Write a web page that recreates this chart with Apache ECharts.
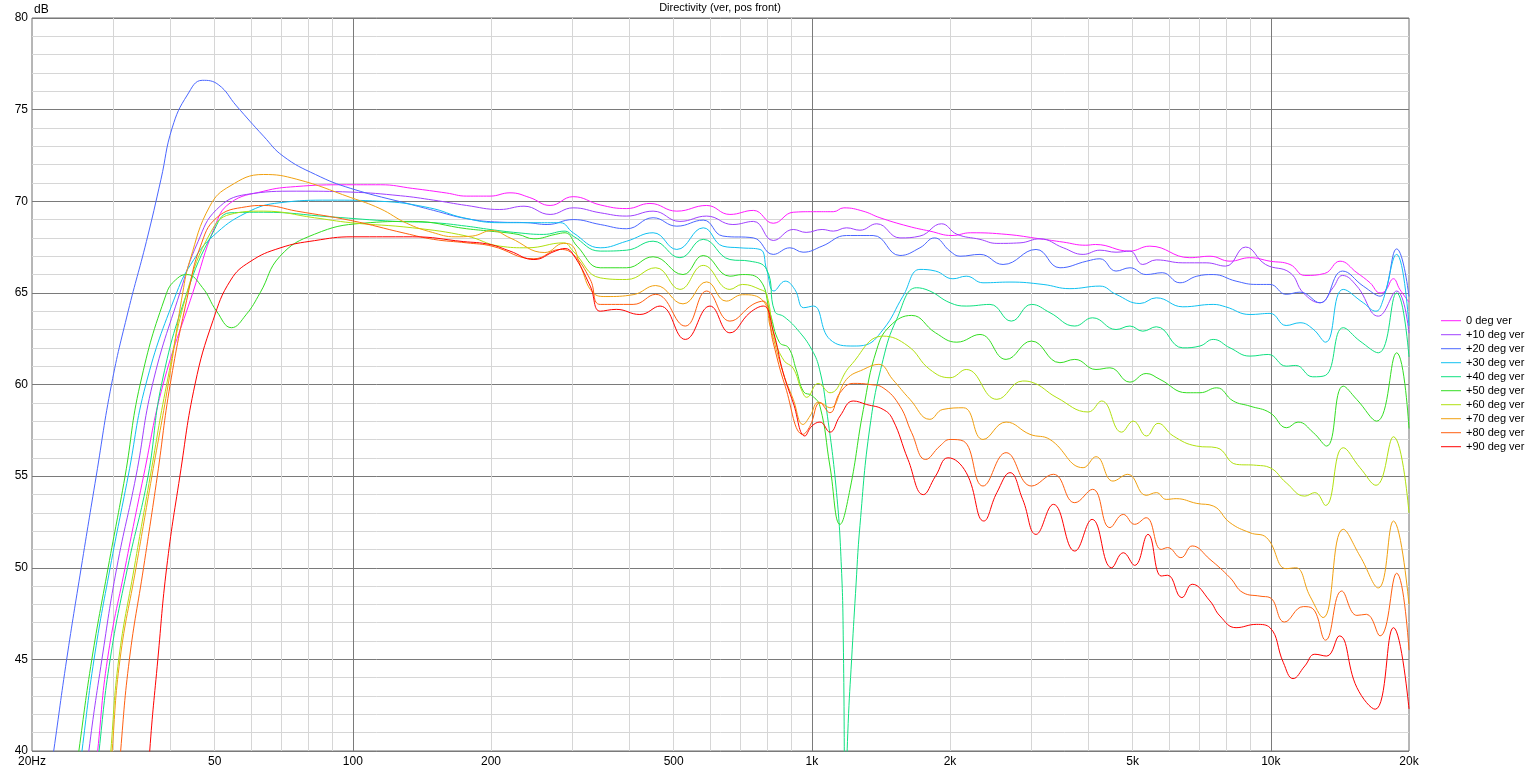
<!DOCTYPE html>
<html><head><meta charset="utf-8">
<script src="https://cdn.jsdelivr.net/npm/echarts@6/dist/echarts.min.js"></script>
<style>html,body{margin:0;padding:0;background:#fff}#c{width:1531px;height:769px}</style>
</head><body><div id="c"></div>
<script>
const seriesNames = ['0 deg ver','+10 deg ver','+20 deg ver','+30 deg ver','+40 deg ver','+50 deg ver','+60 deg ver','+70 deg ver','+80 deg ver','+90 deg ver'];
const seriesColors = ['#ff1aff','#a040ff','#4a66ff','#10c0f0','#10e080','#33dd22','#b0e010','#f0a010','#ff5f10','#ff0000'];

// [frequency Hz, dB]
const deg0 = [[26.5,35],[27.8,40],[29.2,45],[31.9,50],[35,55],[38.6,60],[44.8,65],[50,68.6],[54,69.9],[64,70.55],[75,70.8],[97,70.9],[115,70.9],[135,70.7],[160,70.45],[177,70.28],[199,70.28],[220,70.46],[243,70.2],[269,69.77],[302,70.25],[346,69.8],[395,69.6],[444,69.88],[508,69.46],[590,69.77],[663,69.28],[746,69.5],[824,68.8],[911,69.4],[1008,69.43],[1114,69.43],[1174,69.64],[1293,69.46],[1407,69.1],[1620,68.64],[1808,68.37],[2020,68.13],[2218,68.28],[2660,68.19],[3141,67.95],[3530,67.77],[3950,67.6],[4150,67.64],[4920,67.28],[5450,67.55],[6660,66.92],[7370,67.0],[8150,66.73],[9000,66.92],[9960,66.73],[11010,66.55],[11860,65.95],[13100,66.06],[14150,66.73],[15400,66.1],[16450,65.55],[17300,65.0],[17750,65.1],[18500,65.77],[19100,65.19],[20000,64.5]];
const deg10 = [[25.3,35],[26.6,40],[28.4,45],[30.6,50],[33.7,55],[36.6,60],[42,65],[46,67.8],[50.5,69.55],[58.6,70.37],[75.5,70.55],[99,70.5],[127,70.3],[150,70.06],[177,69.77],[209,69.55],[236,69.73],[269,69.28],[302,69.64],[346,69.37],[395,69.19],[451,69.46],[516,68.9],[590,69.19],[673,68.73],[746,68.9],[824,67.86],[911,68.46],[972,68.3],[1053,68.46],[1114,68.37],[1190,68.55],[1273,68.42],[1385,68.77],[1556,68.0],[1720,68.1],[1917,68.77],[2070,68.2],[2325,67.92],[2530,67.7],[2841,67.73],[3141,67.95],[3530,67.46],[3900,67.1],[4243,67.33],[4600,67.22],[4932,67.28],[5260,66.55],[5630,66.8],[6430,66.64],[7230,66.64],[7970,66.46],[8810,67.5],[9740,66.55],[11010,66.1],[11770,65.0],[12800,64.46],[13660,65.28],[14330,65.95],[15400,65.37],[17150,63.73],[18800,65.1],[20000,62.8]];
const deg20 = [[20.6,34],[22.3,40],[23.8,45],[25.6,50],[27.6,55],[29.8,60],[32.4,64],[35.5,67.8],[38.2,71.2],[40.4,74.0],[43.6,75.8],[47,76.6],[50.9,76.37],[55.8,75.2],[63.9,73.55],[70.5,72.46],[82.9,71.46],[99,70.7],[135,69.8],[150,69.5],[177,69.05],[209,68.86],[240,68.83],[265,68.73],[302,69.0],[346,68.73],[395,68.5],[451,69.1],[508,68.64],[580,68.97],[640,68.1],[746,68.0],[824,67.1],[896,67.46],[957,67.22],[1053,67.55],[1190,68.13],[1360,68.13],[1556,67.04],[1720,67.46],[1850,68.0],[2000,67.28],[2103,67.0],[2325,67.1],[2610,66.55],[3080,67.37],[3472,66.37],[3970,66.73],[4243,66.86],[4600,66.19],[4932,66.37],[5350,66.0],[5800,66.1],[6338,65.55],[6900,65.91],[7490,66.0],[8400,65.64],[9300,65.46],[9957,65.46],[10800,64.92],[11576,65.04],[12800,64.46],[14330,66.19],[15900,65.37],[17300,64.82],[18800,67.4],[20000,64.8]];
const deg30 = [[24.3,35],[25.7,40],[27.3,45],[29.6,50],[32.4,55],[35.4,60],[41.3,65],[45,66.8],[49.6,68.1],[58.6,69.37],[69.4,69.92],[89.2,70.06],[114.6,70.0],[147,69.64],[174,69.1],[209,68.83],[248,68.83],[283,68.83],[302,68.28],[346,67.46],[395,67.82],[451,68.28],[508,67.37],[580,68.55],[640,67.55],[697,67.46],[771,67.37],[797,66.28],[827,65.1],[875,65.64],[918,65.19],[960,64.19],[1008,64.28],[1095,62.46],[1236,62.1],[1295,62.13],[1430,63.0],[1580,64.82],[1720,66.28],[1860,66.19],[2030,65.77],[2170,65.91],[2360,65.55],[2702,65.59],[3190,65.46],[3650,65.23],[4243,65.37],[4600,64.92],[5186,64.42],[5630,64.73],[6430,64.24],[7490,64.37],[7970,64.24],[9006,63.82],[9957,63.88],[10800,63.22],[11576,63.37],[12340,63.04],[13160,62.31],[14380,65.19],[15900,64.46],[16940,64.0],[17480,64.46],[18800,67.1],[20000,63.2]];
const deg40 = [[26.8,35],[28.0,40],[29.6,45],[32.3,50],[35.8,55],[38.3,60],[43.5,65],[49.6,68.3],[54,69.37],[63.9,69.4],[89.2,69.15],[124,68.9],[150,68.83],[177,68.64],[199,68.46],[229,68.28],[260,68.19],[290,68.37],[302,68.1],[346,67.28],[395,67.33],[451,67.82],[516,66.92],[580,67.92],[663,66.82],[733,66.73],[797,66.28],[830,64.0],[870,63.7],[930,63.0],[1000,61.9],[1040,60.8],[1077,58.6],[1132,54.1],[1160,50],[1171,46],[1178,38],[1184,25],[1190,38],[1200,41.5],[1221,45],[1245,48.6],[1273,52.3],[1339,57.73],[1430,61.37],[1530,63.55],[1690,65.28],[1808,65.1],[2000,64.46],[2170,64.28],[2444,64.37],[2720,63.46],[3010,64.37],[3302,63.92],[3740,63.19],[4090,63.64],[4600,63.0],[4932,63.19],[5260,62.91],[5630,63.15],[6430,62.0],[7007,62.1],[7490,62.46],[8147,62.0],[9006,61.55],[9870,61.64],[10800,61.0],[11330,61.04],[12340,60.42],[13160,60.5],[14380,63.1],[15640,62.37],[17150,61.73],[18800,65.0],[20000,61.5]];
const deg50 = [[23.8,35],[25.3,40],[27.0,45],[29.3,50],[31.9,55],[34.4,60],[39.3,65],[41.5,65.8],[43.5,66.0],[47,65.3],[50.5,64.0],[54.4,63.1],[58.5,63.8],[62.8,65.0],[69.4,67.0],[82.5,68.2],[105,68.8],[135,68.9],[177,68.5],[199,68.37],[229,68.19],[248,67.95],[276,68.19],[290,68.28],[308,67.55],[346,66.37],[395,66.37],[451,66.97],[524,66.0],[580,67.04],[663,65.91],[706,66.0],[771,65.7],[811,63.9],[850,62.3],[890,62.0],[925,60.8],[960,59.6],[1000,59.4],[1042,58.8],[1095,55.55],[1152,52.37],[1211,54.28],[1295,58.64],[1385,61.91],[1480,63.19],[1650,63.77],[1860,62.82],[2070,62.31],[2325,62.73],[2650,61.37],[3010,62.37],[3472,61.19],[3740,61.37],[4160,60.82],[4461,60.91],[4932,60.13],[5350,60.6],[5733,60.28],[6560,59.55],[7007,59.55],[7620,59.82],[8280,59.1],[9006,58.82],[9957,58.46],[10830,57.64],[11460,57.95],[12380,57.37],[13230,56.64],[14380,59.91],[15380,59.19],[17010,58.0],[18800,61.73],[20000,57.6]];
const deg60 = [[28.7,35],[29.7,40],[30.9,45],[33.4,50],[36.2,55],[39.3,60],[43.5,65],[49,68.3],[54,69.28],[63.9,69.46],[82.5,69.1],[99,68.83],[135,68.55],[177,68.1],[209,67.55],[240,67.46],[288,67.73],[302,67.28],[346,65.82],[395,65.73],[457,66.37],[516,65.19],[580,66.5],[663,65.19],[706,65.46],[771,65.19],[797,64.92],[830,62.5],[870,61.3],[910,60.9],[950,59.7],[975,59.3],[1032,60.06],[1095,59.55],[1211,61.0],[1430,62.64],[1620,62.1],[1808,60.82],[2000,60.37],[2170,60.82],[2530,59.19],[2880,60.19],[3010,60.13],[3420,59.28],[4000,58.5],[4280,59.1],[4730,57.4],[5015,58.0],[5360,57.19],[5680,57.88],[6130,57.19],[6890,56.64],[7620,56.55],[8420,55.64],[9310,55.59],[9957,55.46],[10800,54.64],[11860,53.91],[12470,54.1],[13160,53.4],[14380,56.55],[15640,55.46],[16950,54.5],[18500,57.15],[20000,53.0]];
const deg70 = [[29.0,35],[29.9,40],[31.1,45],[33.7,50],[36.5,55],[39.6,60],[42.6,65],[44.2,66.8],[48.8,69.73],[54,70.83],[63.9,71.46],[75.5,71.2],[99,70.2],[114.6,69.6],[131,68.8],[149,68.3],[167,68.06],[182,68.1],[201,68.4],[220,68.0],[262,67.2],[288,67.7],[300,67.6],[313,66.5],[334,65.0],[356,64.8],[408,64.9],[457,65.4],[524,64.4],[590,65.6],[651,64.55],[706,64.9],[784,64.55],[811,63.19],[866,60.64],[911,59.19],[957,57.82],[991,58.28],[1035,59.04],[1095,58.73],[1190,60.28],[1295,60.82],[1400,61.1],[1500,60.28],[1636,59.19],[1808,58.1],[1930,58.64],[2140,58.73],[2360,57.0],[2650,57.95],[2987,57.28],[3302,57.0],[3900,55.46],[4160,56.06],[4530,54.73],[4880,55.1],[5350,53.95],[5630,54.1],[5920,53.73],[6220,53.77],[6900,53.51],[7490,53.37],[8147,52.46],[9006,51.91],[9790,51.64],[10800,49.95],[11330,50.0],[12170,48.45],[13000,47.28],[14380,52.1],[15640,50.64],[17150,48.9],[18500,52.55],[20000,48.0]];
const deg80 = [[30.2,35],[31.2,40],[32.6,45],[35.0,50],[37.5,55],[40.0,60],[43.8,65],[46.5,67.5],[50.5,69.1],[58.6,69.7],[63.9,69.77],[75.5,69.46],[99,68.95],[130,68.25],[150,67.92],[177,67.73],[201,67.55],[248,66.86],[283,67.37],[302,67.1],[329,65.73],[346,64.37],[408,64.37],[457,64.92],[530,63.19],[590,65.1],[663,63.46],[744,64.37],[784,64.55],[824,62.28],[875,59.91],[957,57.28],[991,57.73],[1042,59.0],[1095,58.46],[1152,59.55],[1231,60.06],[1339,60.0],[1430,59.82],[1556,58.82],[1650,57.37],[1770,55.91],[1901,56.64],[2000,57.0],[2140,56.91],[2360,54.46],[2650,56.28],[3010,54.46],[3360,55.1],[3740,53.55],[4090,54.28],[4461,52.19],[4770,52.91],[5050,52.37],[5350,52.73],[5770,51.0],[5960,51.1],[6370,50.55],[6740,51.19],[7367,50.46],[8147,49.46],[8700,48.64],[9469,48.45],[9957,48.37],[10710,47.04],[11770,47.88],[12340,47.77],[13160,46.05],[14270,48.73],[15400,47.4],[16150,47.46],[17294,46.28],[18800,49.7],[20000,45.5]];
const deg90 = [[35.2,35],[36.1,40],[37.6,45],[39.3,50],[42.0,55],[45.3,60],[49.6,63.5],[54.2,65.7],[59.7,66.7],[69.4,67.45],[82.5,67.85],[100,68.06],[135,68.06],[174,67.8],[199,67.64],[220,67.28],[248,66.82],[276,67.28],[290,67.42],[302,67.1],[329,65.37],[346,64.0],[375,64.1],[422,63.82],[467,64.28],[530,62.46],[600,64.28],[663,62.82],[733,63.92],[784,64.28],[824,62.91],[866,60.64],[911,59.0],[966,57.19],[1000,57.73],[1042,57.95],[1095,57.4],[1152,58.28],[1231,59.1],[1316,58.91],[1430,58.64],[1500,58.1],[1620,55.91],[1750,53.99],[1860,55.0],[1980,56.0],[2170,55.19],[2370,52.55],[2530,54.1],[2702,55.19],[2880,53.73],[3080,51.82],[3360,53.46],[3740,50.91],[4080,52.64],[4500,50.0],[4770,50.82],[5050,50.13],[5400,51.82],[5770,49.55],[5960,49.59],[6400,48.37],[6740,49.1],[7367,48.19],[7746,47.37],[8400,46.73],[9300,46.91],[9957,46.73],[10650,44.82],[11180,43.95],[11860,44.64],[12470,45.28],[13230,45.18],[14100,46.28],[15400,43.46],[16880,42.28],[18500,46.73],[20000,42.3]];

const xTickFreqs = [20,50,100,200,500,1000,2000,5000,10000,20000];
const xTickLabels = ['20Hz','50','100','200','500','1k','2k','5k','10k','20k'];
const xMinorFreqs = [30,40,50,60,70,80,90,200,300,400,500,600,700,800,900,2000,3000,4000,5000,6000,7000,8000,9000];
const xMajorFreqs = [100,1000,10000];
const yMin = 40, yMax = 80, yStep = 5;
const titleText = 'Directivity (ver, pos front)';

const seriesData = [deg0,deg10,deg20,deg30,deg40,deg50,deg60,deg70,deg80,deg90];
const FONT = '"Liberation Sans", Arial, sans-serif';
const lg = v => Math.log10(v);
const xMin = lg(20), xMax = lg(20000);
function xLabel(v){
  let best = 0, d = 1e9;
  xTickFreqs.forEach((f,i)=>{ const dd = Math.abs(lg(f)-v); if (dd<d){d=dd;best=i;} });
  return xTickLabels[best];
}
const chart = echarts.init(document.getElementById('c'), null, {renderer:'canvas'});
chart.setOption({
  animation:false,
  backgroundColor:'#ffffff',
  grid:{left:32,right:122,top:18,bottom:18,show:true,borderColor:'#6e6e6e',borderWidth:1,backgroundColor:'#ffffff',containLabel:false,outerBoundsMode:'none'},
  graphic:[{type:'text',x:720,y:2,style:{text:titleText,textAlign:'center',fill:'#000',font:'11px '+FONT}}],
  legend:{orient:'vertical',left:1441,top:313.7,padding:0,itemWidth:20,itemHeight:1,itemGap:0,icon:'rect',selectedMode:false,
    textStyle:{fontSize:11,fontFamily:FONT,color:'#000',lineHeight:14},data:seriesNames},
  xAxis:[
    {type:'value',min:xMin,max:xMax,gridIndex:0,position:'bottom',
     axisLine:{show:false},axisTick:{show:false,customValues:xMinorFreqs.map(lg)},
     splitLine:{show:true,lineStyle:{color:'#d6d6d6',width:1}},
     axisLabel:{customValues:xTickFreqs.map(lg),formatter:xLabel,margin:5,color:'#000',fontSize:12,fontFamily:FONT}},
    {type:'value',min:xMin,max:xMax,gridIndex:0,position:'bottom',
     axisLine:{show:false},axisTick:{show:false,customValues:xMajorFreqs.map(lg)},
     axisLabel:{show:false},splitLine:{show:true,lineStyle:{color:'#7a7a7a',width:1}}}
  ],
  yAxis:{type:'value',min:yMin,max:yMax,interval:yStep,name:'dB',nameLocation:'end',nameGap:2,
    nameTextStyle:{align:'left',color:'#000',fontSize:12,fontFamily:FONT,padding:[0,0,0,2]},
    axisLine:{show:false},axisTick:{show:false},
    axisLabel:{margin:4,color:'#000',fontSize:12,fontFamily:FONT},
    splitLine:{show:true,lineStyle:{color:'#7a7a7a',width:1}},
    minorTick:{show:false,splitNumber:5},
    minorSplitLine:{show:true,lineStyle:{color:'#d6d6d6',width:1}}},
  series: seriesNames.map((n,i)=>({
    name:n,type:'line',xAxisIndex:0,yAxisIndex:0,
    data:seriesData[i].map(p=>[lg(p[0]),p[1]]),
    showSymbol:false,symbol:'none',smooth:0.45,clip:true,silent:true,
    lineStyle:{width:1,color:seriesColors[i]},itemStyle:{color:seriesColors[i]}
  }))
});
</script></body></html>
